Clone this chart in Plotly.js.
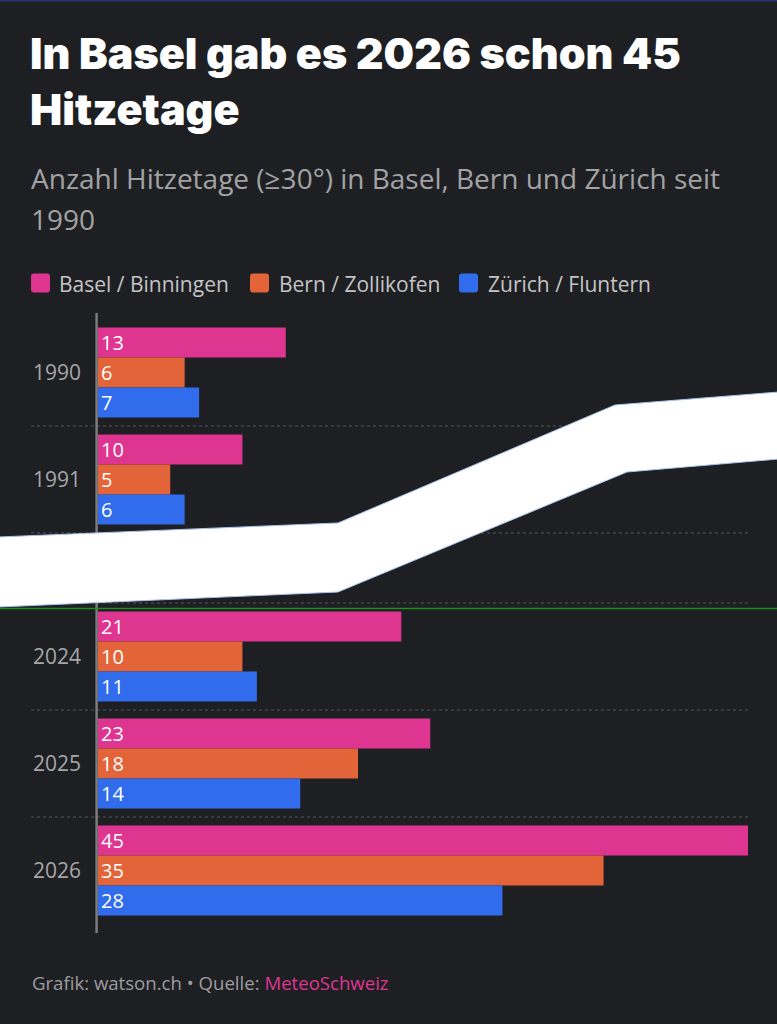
<!DOCTYPE html>
<html><head><meta charset="utf-8">
<script src="https://cdn.plot.ly/plotly-3.0.1.min.js"></script>
<style>html,body{margin:0;padding:0;background:#1e1f22;}</style>
</head><body>
<div id="chart" style="width:777px;height:1024px;"></div>
<script>
// ---- data ----
const stations = ["Basel / Binningen", "Bern / Zollikofen", "Zürich / Fluntern"];
const stationColors = ["#de3590", "#e26438", "#306cec"];
const yearsTop = ["1990", "1991"];
const yearsBottom = ["2024", "2025", "2026"];
const baselTop = [13, 10];
const bernTop = [6, 5];
const zurichTop = [7, 6];
const baselBottom = [21, 23, 45];
const bernBottom = [10, 18, 35];
const zurichBottom = [11, 14, 28];

// ---- layout geometry ----
const W = 777, H = 1024, L = 98, R = 29, T = 319, B = 100;
const pw = W - L - R, ph = H - T - B;
const px = v => (v - L) / pw;
const py = v => (H - B - v) / ph;
const BODY = "'Open Sans', Roboto, sans-serif";

const topVals = [baselTop, bernTop, zurichTop];
const bottomVals = [baselBottom, bernBottom, zurichBottom];
const traces = [];
function addTrace(i, years, vals, yax) {
  traces.push({
    type: 'bar', orientation: 'h', name: stations[i],
    y: years, x: vals, xaxis: 'x', yaxis: yax,
    marker: {color: stationColors[i], line: {width: 0}},
    text: vals.map(String), textposition: 'inside', insidetextanchor: 'start',
    textangle: 0, constraintext: 'none',
    textfont: {color: '#ffffff', size: 20, family: BODY},
    showlegend: false, hoverinfo: 'skip'
  });
}
for (let i = 0; i < 3; i++) addTrace(i, yearsTop, topVals[i], 'y');
for (let i = 0; i < 3; i++) addTrace(i, yearsBottom, bottomVals[i], 'y2');

const domTop = [py(533), 1];
const domBottom = [0, py(603)];

const shapes = [];
// thin top border
shapes.push({type: 'line', xref: 'paper', yref: 'paper', x0: px(0), x1: px(777), y0: py(0.8), y1: py(0.8),
  line: {color: '#28306b', width: 2}, layer: 'above'});
// dotted category separators
function seps(dom, n, ks) {
  const step = (dom[1] - dom[0]) / n;
  ks.forEach(k => {
    const y = dom[1] - k * step;
    shapes.push({type: 'line', xref: 'paper', yref: 'paper', x0: px(31), x1: px(748), y0: y, y1: y,
      line: {color: '#55565a', width: 1, dash: 'dot'}, layer: 'below'});
  });
}
seps(domTop, yearsTop.length, [1, 2]);
seps(domBottom, yearsBottom.length, [0, 1, 2]);
// vertical baseline
shapes.push({type: 'line', xref: 'paper', yref: 'paper', x0: px(96.6), x1: px(96.6), y0: py(313), y1: py(933),
  line: {color: '#7c7c7c', width: 2.5}, layer: 'above'});
// torn-paper white band
const upper = [[-2, 537], [338, 523], [615, 405], [779, 392]];
const lower = [[779, 459], [627, 472], [338, 592], [-2, 607]];
const pts = upper.concat(lower);
const path = pts.map((p, j) => (j ? 'L' : 'M') + px(p[0]).toFixed(5) + ',' + py(p[1]).toFixed(5)).join(' ') + ' Z';
shapes.push({type: 'path', xref: 'paper', yref: 'paper', path: path, fillcolor: '#ffffff',
  line: {color: '#a9c3f0', width: 1}, layer: 'above'});
// green line
shapes.push({type: 'line', xref: 'paper', yref: 'paper', x0: px(0), x1: px(777), y0: py(608.5), y1: py(608.5),
  line: {color: '#1e8c1e', width: 1.5}, layer: 'above'});

// custom legend
const legSquareX = [40.5, 259.5, 468.5];
const legTextX = [57, 277, 486];
const legY = 283;
const annotations = [];
const rr = "M-6.5,-9.5 H6.5 Q9.5,-9.5 9.5,-6.5 V6.5 Q9.5,9.5 6.5,9.5 H-6.5 Q-9.5,9.5 -9.5,6.5 V-6.5 Q-9.5,-9.5 -6.5,-9.5 Z";
for (let i = 0; i < 3; i++) {
  shapes.push({type: 'path', xref: 'paper', yref: 'paper', xsizemode: 'pixel', ysizemode: 'pixel',
    xanchor: px(legSquareX[i]), yanchor: py(legY), path: rr, fillcolor: stationColors[i],
    line: {width: 0}, layer: 'above'});
  annotations.push({xref: 'paper', yref: 'paper', x: px(legTextX[i]), y: py(legY + 1), xanchor: 'left', yanchor: 'middle',
    text: stations[i], showarrow: false, font: {family: BODY, size: 21, color: '#c4c4c6'}});
}
// subtitle
annotations.push({xref: 'paper', yref: 'paper', x: px(29), y: py(178), xanchor: 'left', yanchor: 'middle',
  text: 'Anzahl Hitzetage (≥30°) in Basel, Bern und Zürich seit', showarrow: false,
  font: {family: BODY, size: 28, color: '#a2a2a5'}});
annotations.push({xref: 'paper', yref: 'paper', x: px(29), y: py(219), xanchor: 'left', yanchor: 'middle',
  text: '1990', showarrow: false, font: {family: BODY, size: 28, color: '#a2a2a5'}});
// footer
annotations.push({xref: 'paper', yref: 'paper', x: px(30), y: py(982), xanchor: 'left', yanchor: 'middle',
  text: 'Grafik: watson.ch • Quelle: <span style="color:#de3590">MeteoSchweiz</span>', showarrow: false,
  font: {family: BODY, size: 18.6, color: '#9c9ca0'}});

const yaxisCommon = {
  type: 'category', autorange: 'reversed', showgrid: false, zeroline: false, showline: false,
  ticks: '', ticklabelstandoff: 16, tickfont: {family: BODY, size: 21, color: '#a6a6a9'}, fixedrange: true
};

const layout = {
  width: W, height: H,
  paper_bgcolor: '#1e1f22', plot_bgcolor: '#1e1f22',
  margin: {l: L, r: R, t: T, b: B, pad: 0},
  title: {
    text: 'In Basel gab es 2026 schon 45<br>Hitzetage',
    xref: 'container', yref: 'container', x: 30 / W, xanchor: 'left', y: 1 - 69 / H, yanchor: 'top',
    font: {family: "Inter, 'DejaVu Sans', sans-serif", size: 43, weight: 900, color: '#ffffff'}
  },
  showlegend: false,
  barmode: 'group', bargap: 0.16, bargroupgap: 0,
  xaxis: {range: [0, 45], visible: false, fixedrange: true, anchor: 'y2'},
  yaxis: Object.assign({domain: domTop, anchor: 'x'}, yaxisCommon),
  yaxis2: Object.assign({domain: domBottom, anchor: 'x'}, yaxisCommon),
  shapes: shapes,
  annotations: annotations,
  font: {family: BODY}
};

Plotly.newPlot('chart', traces, layout, {displayModeBar: false, staticPlot: true});
</script>
</body></html>
